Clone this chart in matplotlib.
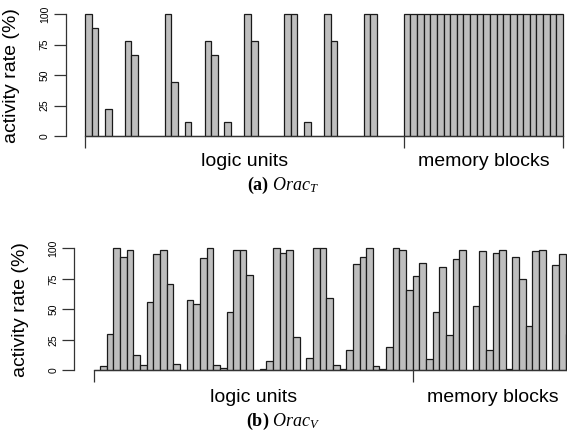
import numpy as np
import matplotlib
matplotlib.use("Agg")
import matplotlib.pyplot as plt

plt.rcParams["font.family"] = ["Liberation Sans", "DejaVu Sans"]
plt.rcParams["mathtext.fontset"] = "custom"
plt.rcParams["mathtext.rm"] = "Liberation Serif"
plt.rcParams["mathtext.it"] = "Liberation Serif:italic"
plt.rcParams["mathtext.bf"] = "Liberation Serif:bold"

# =========================
# DATA (activity rate, %)
# =========================
groups = ["logic units", "memory blocks"]
y_ticks = [0, 25, 50, 75, 100]

orac_t_logic = [
    100, 88.9, 0, 22.2, 0, 0,
    77.8, 66.7, 0, 0, 0, 0,
    100, 44.4, 0, 11.1, 0, 0,
    77.8, 66.7, 0, 11.1, 0, 0,
    100, 77.8, 0, 0, 0, 0,
    100, 100, 0, 11.1, 0, 0,
    100, 77.8, 0, 0, 0, 0,
    100, 100, 0, 0, 0, 0,
]
orac_t_memory = [
    100, 100, 100, 100, 100, 100, 100, 100, 100, 100, 100, 100,
    100, 100, 100, 100, 100, 100, 100, 100, 100, 100, 100, 100,
]

orac_v_logic = [
    0.5, 3.5, 30, 100, 92.6, 98.4,
    12.6, 4.4, 56, 95.6, 99, 70.8,
    4.9, 0, 58, 54, 92, 100,
    4.4, 1.6, 48, 99, 99, 78.5,
    0, 0.8, 7.4, 100, 96, 98.6,
    27.6, 0, 9.8, 100, 100, 59,
    4, 0.8, 17, 87, 93, 100,
    3.3, 1.4, 19, 100, 99, 66,
]
orac_v_memory = [
    77, 88, 9.3, 48, 85, 28.7,
    91.5, 99, 0.3, 53, 98, 16.7,
    96, 99, 1.4, 92.6, 74.6, 36,
    97.5, 99, 0.5, 86, 95, 30,
]

W, H = 567, 438
PT = 72 / 100  # px -> pt at dpi 100


def draw_panel(fig, bar_left, bar_right, base_y, top_y, logic, memory,
               caption, label_y, caption_y):

    values = list(logic) + list(memory)
    n = len(values)
    n_logic = len(logic)

    pitch = (bar_right - bar_left) / n
    pad = 0.04 * n  # R style axis padding
    left = bar_left - pad * pitch
    width = (n + 2 * pad) * pitch

    ax = fig.add_axes([left / W, 1 - base_y / H, width / W, (base_y - top_y) / H])

    ax.bar(
        np.arange(n) + 0.5,
        values,
        width=1,
        color="#bebebe",
        edgecolor="#1a1a1a",
        linewidth=0.9,
        clip_on=False
    )

    ax.set_xlim(-pad, n + pad)
    ax.set_ylim(0, 100)

    for s in ["top", "right"]:
        ax.spines[s].set_visible(False)
    ax.spines["left"].set_bounds(0, 100)
    ax.spines["bottom"].set_bounds(0, n)
    for s in ["left", "bottom"]:
        ax.spines[s].set_color("#333333")
        ax.spines[s].set_linewidth(0.9)

    ax.set_xticks([0, n_logic, n])
    ax.set_xticklabels([])
    ax.set_yticks(y_ticks)
    ax.set_yticklabels([str(t) for t in y_ticks], rotation=90, va="center")
    ax.tick_params(length=12 * PT, width=0.9, color="#333333",
                   labelsize=7.5, pad=3)

    ax.annotate(
        "activity rate (%)",
        xy=(0, 0.5), xycoords="axes fraction",
        xytext=(-54 * PT, 0), textcoords="offset points",
        rotation=90, ha="center", va="center", fontsize=14
    )

    # group names under each range
    centers = [n_logic / 2, (n_logic + n) / 2]
    for name, c in zip(groups, centers):
        ax.annotate(
            name,
            xy=(c, 0), xycoords="data",
            xytext=(0, -(label_y - base_y) * PT), textcoords="offset points",
            ha="center", va="center", fontsize=14
        )

    fig.text(0.5, 1 - caption_y / H, caption, ha="center", va="center",
             fontsize=13)

    return ax


fig = plt.figure(figsize=(W / 100, H / 100), dpi=100)

# =========================
# (a) Orac_T
# =========================
draw_panel(fig, 85, 563, 136, 14.3, orac_t_logic, orac_t_memory,
           r"$\mathbf{(a)}\ \mathit{Orac}_{\mathit{T}}$", 162, 185)

# =========================
# (b) Orac_V
# =========================
draw_panel(fig, 93.5, 572.3, 370.3, 248.3, orac_v_logic, orac_v_memory,
           r"$\mathbf{(b)}\ \mathit{Orac}_{\mathit{V}}$", 397, 421)

plt.savefig("out.png", dpi=100)
